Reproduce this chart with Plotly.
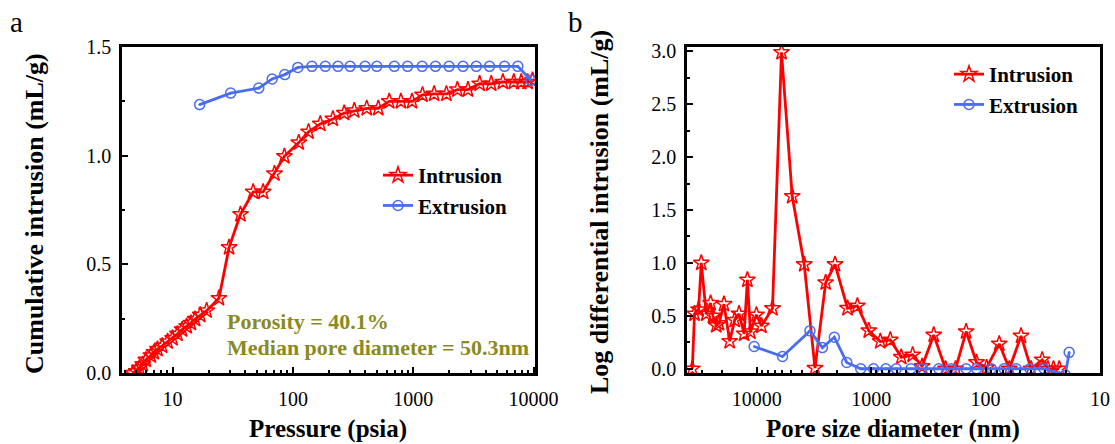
import plotly.graph_objects as go

# ---------------- data: panel a (cumulative intrusion) ----------------
press_intr = [4.67, 4.98, 5.3, 5.65, 6.0, 6.6, 7.0, 7.5, 8.2, 9.1, 10, 11, 12, 13.1, 14.2,
              15.4, 17, 19.2, 24.3, 29.5, 36.7, 46.8, 56.6, 70.3, 85, 112, 135, 169, 215,
              267, 324, 411, 513, 632, 790, 978, 1194, 1492, 1888, 2329, 2853, 3564, 4450,
              5560, 6850, 7900, 8930, 9800]
cum_intr = [0.0, 0.008, 0.023, 0.04, 0.06, 0.08, 0.095, 0.11, 0.125, 0.145, 0.16, 0.18, 0.2,
            0.215, 0.23, 0.248, 0.267, 0.287, 0.344, 0.578, 0.73, 0.833, 0.833, 0.917, 0.997,
            1.06, 1.11, 1.146, 1.169, 1.196, 1.207, 1.218, 1.218, 1.25, 1.25, 1.25, 1.28,
            1.284, 1.284, 1.304, 1.304, 1.331, 1.331, 1.339, 1.339, 1.339, 1.339, 1.347]

press_extr = [16.8, 30.4, 52.1, 67.3, 85.6, 110, 144, 186, 237, 299, 398, 498, 697, 898,
              1186, 1531, 1986, 2594, 3343, 4307, 5737, 7396, 9530]
cum_extr = [1.235, 1.288, 1.311, 1.353, 1.373, 1.406, 1.411, 1.411, 1.411, 1.411, 1.411,
            1.411, 1.411, 1.411, 1.411, 1.411, 1.411, 1.411, 1.411, 1.411, 1.411, 1.411, 1.347]

# ---------------- data: panel b (log differential intrusion) ----------------
pore_intr = [36600, 35000, 32260, 30570, 27650, 25340, 24170, 22600, 21400, 19360, 17260,
             15600, 14290, 12910, 12080, 11370, 10070, 9100, 7290, 6080, 4900, 3850, 3100,
             2500, 2070, 1610, 1320, 1050, 833, 681, 546, 434, 359, 284, 224, 183, 148, 120,
             98, 76, 62, 49, 40, 32, 28.5, 25.5, 22.7]
ldi_intr = [0.0, 0.52, 0.56, 1.0, 0.52, 0.62, 0.5, 0.41, 0.43, 0.61, 0.26, 0.46, 0.52, 0.33,
            0.84, 0.35, 0.51, 0.405, 0.57, 2.99, 1.63, 0.986, 0.006, 0.814, 0.986, 0.572,
            0.594, 0.361, 0.258, 0.273, 0.11, 0.132, 0.022, 0.32, 0.0, 0.0, 0.352, 0.06, 0.01,
            0.236, 0.0, 0.31, 0.0, 0.085, 0.0, 0.0, 0.0]

pore_extr = [10550, 5960, 3430, 2670, 2100, 1635, 1233, 954, 744, 604, 449, 360, 257, 199,
             148, 120, 89, 69, 54, 41, 30.8, 20.1, 18.6]
ldi_extr = [0.21, 0.116, 0.358, 0.2, 0.298, 0.06, 0.0, 0.0, 0.0, 0.0, 0.0, 0.0, 0.0, 0.0,
            0.0, 0.0, 0.0, 0.0, 0.0, 0.0, 0.0, -0.06, 0.155]

x_tick_vals = [10, 100, 1000, 10000]
x_tick_text = ["10", "100", "1000", "10000"]

RED = "#ff0000"
BLUE = "#4a6cf0"
OLIVE = "#8a8a1e"
FONT = "Liberation Serif"

fig = go.Figure()

def add(x, y, name, color, symbol, size, xa, ya, lg):
    fig.add_trace(go.Scatter(x=x, y=y, mode="lines+markers", name="<b>" + name + "</b>",
                             line=dict(color=color, width=2.8),
                             marker=dict(symbol=symbol, size=size, color=color, line=dict(width=1.5)),
                             xaxis=xa, yaxis=ya, legend=lg))

add(press_intr, cum_intr, "Intrusion", RED, "star-open", 12, "x", "y", "legend")
add(press_extr, cum_extr, "Extrusion", BLUE, "circle-open-dot", 10, "x", "y", "legend")
add(pore_intr, ldi_intr, "Intrusion", RED, "star-open", 12, "x2", "y2", "legend2")
add(pore_extr, ldi_extr, "Extrusion", BLUE, "circle-open-dot", 10, "x2", "y2", "legend2")

W, H = 1115, 444
ydom = [1 - 373 / H, 1 - 47 / H]

minor_log = [m * 10 ** e for e in range(0, 5) for m in range(2, 10)]

axis_common = dict(showline=True, linecolor="black", linewidth=2.5, mirror=True,
                   ticks="inside", ticklen=6, tickwidth=2, tickcolor="black",
                   showgrid=False, zeroline=False, automargin=False,
                   tickfont=dict(family=FONT, size=20, color="black"))
minor_style = dict(ticks="inside", ticklen=3, tickwidth=1.5, tickcolor="black")

fig.update_layout(
    template="none",
    width=W, height=H,
    margin=dict(l=0, r=0, t=0, b=0, autoexpand=False),
    paper_bgcolor="white", plot_bgcolor="white",
    font=dict(family=FONT, color="black"),
    showlegend=True,
    xaxis=dict(domain=[122 / W, 535 / W], type="log", range=[0.58, 4.012],
               tickvals=x_tick_vals, ticktext=x_tick_text, anchor="y", ticklabelstandoff=6,
               minor=dict(tickvals=minor_log, **minor_style), **axis_common),
    yaxis=dict(domain=ydom, range=[0, 1.5], tickvals=[0, 0.5, 1.0, 1.5],
               ticktext=["0.0", "0.5", "1.0", "1.5"], anchor="x", ticklabelstandoff=4,
               minor=dict(tickvals=[0.25, 0.75, 1.25], **minor_style), **axis_common),
    xaxis2=dict(domain=[687 / W, 1100 / W], type="log", range=[4.61, 1.0],
                tickvals=x_tick_vals, ticktext=x_tick_text, anchor="y2", ticklabelstandoff=6,
                minor=dict(tickvals=minor_log, **minor_style), **axis_common),
    yaxis2=dict(domain=ydom, range=[-0.04, 3.04], tickvals=[0, 0.5, 1.0, 1.5, 2.0, 2.5, 3.0],
                ticktext=["0.0", "0.5", "1.0", "1.5", "2.0", "2.5", "3.0"], anchor="x2",
                ticklabelstandoff=4,
                minor=dict(tickvals=[0.25, 0.75, 1.25, 1.75, 2.25, 2.75], **minor_style),
                **axis_common),
    legend=dict(x=378 / W, y=1 - 155 / H, xanchor="left", yanchor="top",
                bgcolor="rgba(0,0,0,0)", font=dict(family=FONT, size=21, color="black"),
                tracegroupgap=0),
    legend2=dict(x=949 / W, y=1 - 54 / H, xanchor="left", yanchor="top",
                 bgcolor="rgba(0,0,0,0)", font=dict(family=FONT, size=21, color="black"),
                 tracegroupgap=0),
)

def note(text, x, y, size, color="black", angle=0, xanchor="center"):
    fig.add_annotation(text=text, x=x / W, y=1 - y / H, xref="paper", yref="paper",
                       xanchor=xanchor, yanchor="middle", showarrow=False, textangle=angle,
                       font=dict(family=FONT, size=size, color=color))

note("<b>Porosity = 40.1%</b>", 225, 321, 22, OLIVE, xanchor="left")
note("<b>Median pore diameter = 50.3nm</b>", 225, 347, 22, OLIVE, xanchor="left")
note("a", 8, 22, 29, xanchor="left")
note("b", 566, 22, 29, xanchor="left")
note("<b>Pressure (psia)</b>", 328, 429, 25)
note("<b>Pore size diameter (nm)</b>", 893, 429, 25)
note("<b>Cumulative intrusion (mL/g)</b>", 35, 214, 26, angle=-90)
note("<b>Log differential intrusion (mL/g)</b>", 599, 212, 26, angle=-90)

fig.write_html("out.html")
